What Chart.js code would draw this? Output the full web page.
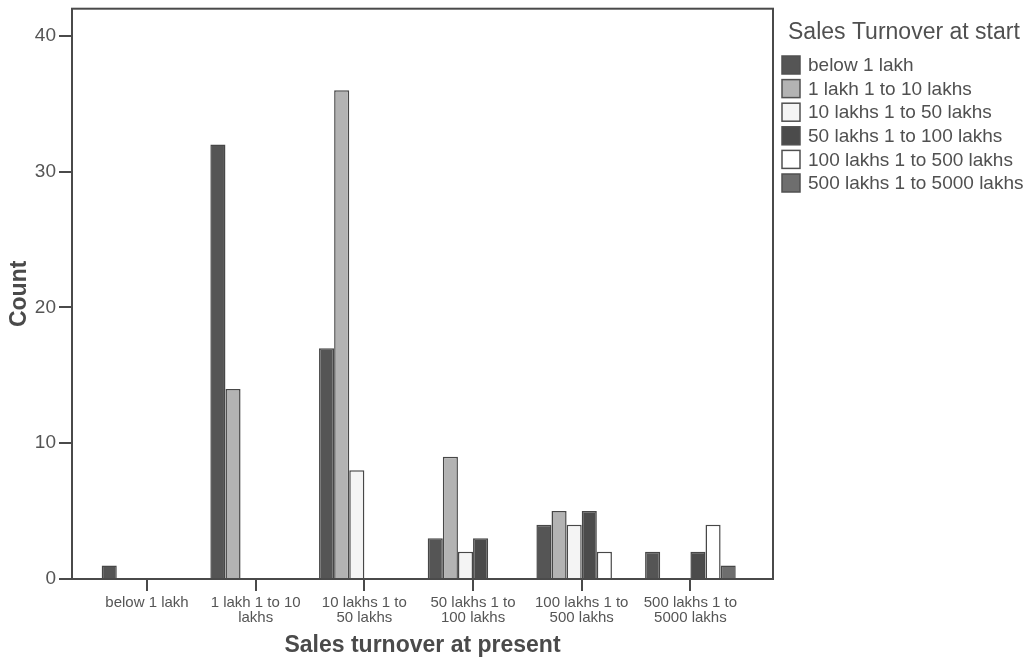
<!DOCTYPE html>
<html lang="en">
<head>
  <meta charset="UTF-8">
  <title>Sales turnover at present</title>
  <script src="https://cdn.jsdelivr.net/npm/chart.js@4.4.1/dist/chart.umd.min.js"></script>
  <style>
    html, body { margin: 0; padding: 0; background: #fff; }
    #wrap { width: 1035px; height: 661px; }
  </style>
</head>
<body>
  <div id="wrap">
    <canvas id="salesChart" width="1035" height="661"></canvas>
  </div>
  <script>
    // x categories (sales turnover at present), split into lines like the original
    const presentLabels = [
      ['below 1 lakh'],
      ['1 lakh 1 to 10', 'lakhs'],
      ['10 lakhs 1 to', '50 lakhs'],
      ['50 lakhs 1 to', '100 lakhs'],
      ['100 lakhs 1 to', '500 lakhs'],
      ['500 lakhs 1 to', '5000 lakhs']
    ];
    // series (sales turnover at start)
    const startLabels = ['below 1 lakh', '1 lakh 1 to 10 lakhs', '10 lakhs 1 to 50 lakhs',
      '50 lakhs 1 to 100 lakhs', '100 lakhs 1 to 500 lakhs', '500 lakhs 1 to 5000 lakhs'];

    const below1Lakh     = [1, 32, 17, 3, 4, 2];
    const lakh1To10      = [0, 14, 36, 9, 5, 0];
    const lakhs10To50    = [0, 0, 8, 2, 4, 0];
    const lakhs50To100   = [0, 0, 0, 3, 5, 2];
    const lakhs100To500  = [0, 0, 0, 0, 2, 4];
    const lakhs500To5000 = [0, 0, 0, 0, 0, 1];

    const yTicks = [0, 10, 20, 30, 40];

    const fills = ['#555555', '#b3b3b3', '#f4f4f4', '#4b4b4b', '#ffffff', '#6e6e6e'];
    const ink = '#4a4a4a';
    const fam = '"Liberation Sans", Arial, sans-serif';

    // empty cells get no bar at all
    function toPoints(arr) {
      return arr.map((v, i) => ({ x: i, y: v === 0 ? null : v }));
    }

    const seriesValues = [below1Lakh, lakh1To10, lakhs10To50, lakhs50To100, lakhs100To500, lakhs500To5000];

    // plot frame + the legend block on the right
    const frameAndKey = {
      id: 'frameAndKey',
      afterDraw(chart) {
        const ctx = chart.ctx;
        const a = chart.chartArea;
        ctx.save();
        ctx.strokeStyle = ink;
        ctx.lineWidth = 2;
        ctx.strokeRect(a.left, a.top, a.right - a.left, a.bottom - a.top);

        ctx.textBaseline = 'middle';
        ctx.textAlign = 'left';
        ctx.fillStyle = '#505050';
        ctx.font = '23px ' + fam;
        ctx.fillText('Sales Turnover at start', 788, 33);

        ctx.font = '19px ' + fam;
        chart.data.datasets.forEach((ds, i) => {
          const y = 65 + i * 23.6;
          ctx.fillStyle = ds.backgroundColor;
          ctx.fillRect(782, y - 9, 18, 18);
          ctx.strokeStyle = '#505050';
          ctx.lineWidth = 1.5;
          ctx.strokeRect(782, y - 9, 18, 18);
          ctx.fillStyle = '#505050';
          ctx.fillText(ds.label, 808, y + 1);
        });
        ctx.restore();
      }
    };

    new Chart(document.getElementById('salesChart'), {
      type: 'bar',
      data: {
        datasets: startLabels.map((name, i) => ({
          label: name,
          data: toPoints(seriesValues[i]),
          backgroundColor: fills[i],
          borderColor: '#474747',
          borderWidth: 1.5,
          barPercentage: 1,
          categoryPercentage: 0.834
        }))
      },
      options: {
        responsive: false,
        animation: false,
        layout: { padding: { top: 2, right: 262, bottom: 0, left: 0 } },
        plugins: {
          legend: { display: false },
          tooltip: { enabled: false }
        },
        scales: {
          x: {
            type: 'linear',
            min: -0.69,
            max: 5.76,
            offset: false,
            afterBuildTicks: (s) => { s.ticks = presentLabels.map((_, i) => ({ value: i })); },
            afterFit: (s) => { s.height = 82; },
            ticks: {
              callback: (v) => presentLabels[v],
              font: { family: fam, size: 15, lineHeight: 1 },
              color: '#555',
              padding: 4,
              maxRotation: 0,
              autoSkip: false
            },
            grid: { offset: false, drawOnChartArea: false, tickLength: 12, color: ink, lineWidth: 2 },
            border: { color: ink, width: 2 },
            title: {
              display: true,
              text: 'Sales turnover at present',
              font: { family: fam, size: 23, weight: 'bold' },
              color: ink,
              padding: { top: 2, bottom: 2 }
            }
          },
          y: {
            min: 0,
            max: 42,
            afterBuildTicks: (s) => { s.ticks = yTicks.map((v) => ({ value: v })); },
            afterFit: (s) => { s.width = 72; },
            ticks: {
              font: { family: fam, size: 19, lineHeight: 0.6 },
              color: '#555',
              padding: 3
            },
            grid: { drawOnChartArea: false, tickLength: 13, color: ink, lineWidth: 2 },
            border: { color: ink, width: 2 },
            title: {
              display: true,
              text: 'Count',
              font: { family: fam, size: 23, weight: 'bold' },
              color: ink,
              padding: { top: 6, bottom: 0 }
            }
          }
        }
      },
      plugins: [frameAndKey]
    });
  </script>
</body>
</html>
